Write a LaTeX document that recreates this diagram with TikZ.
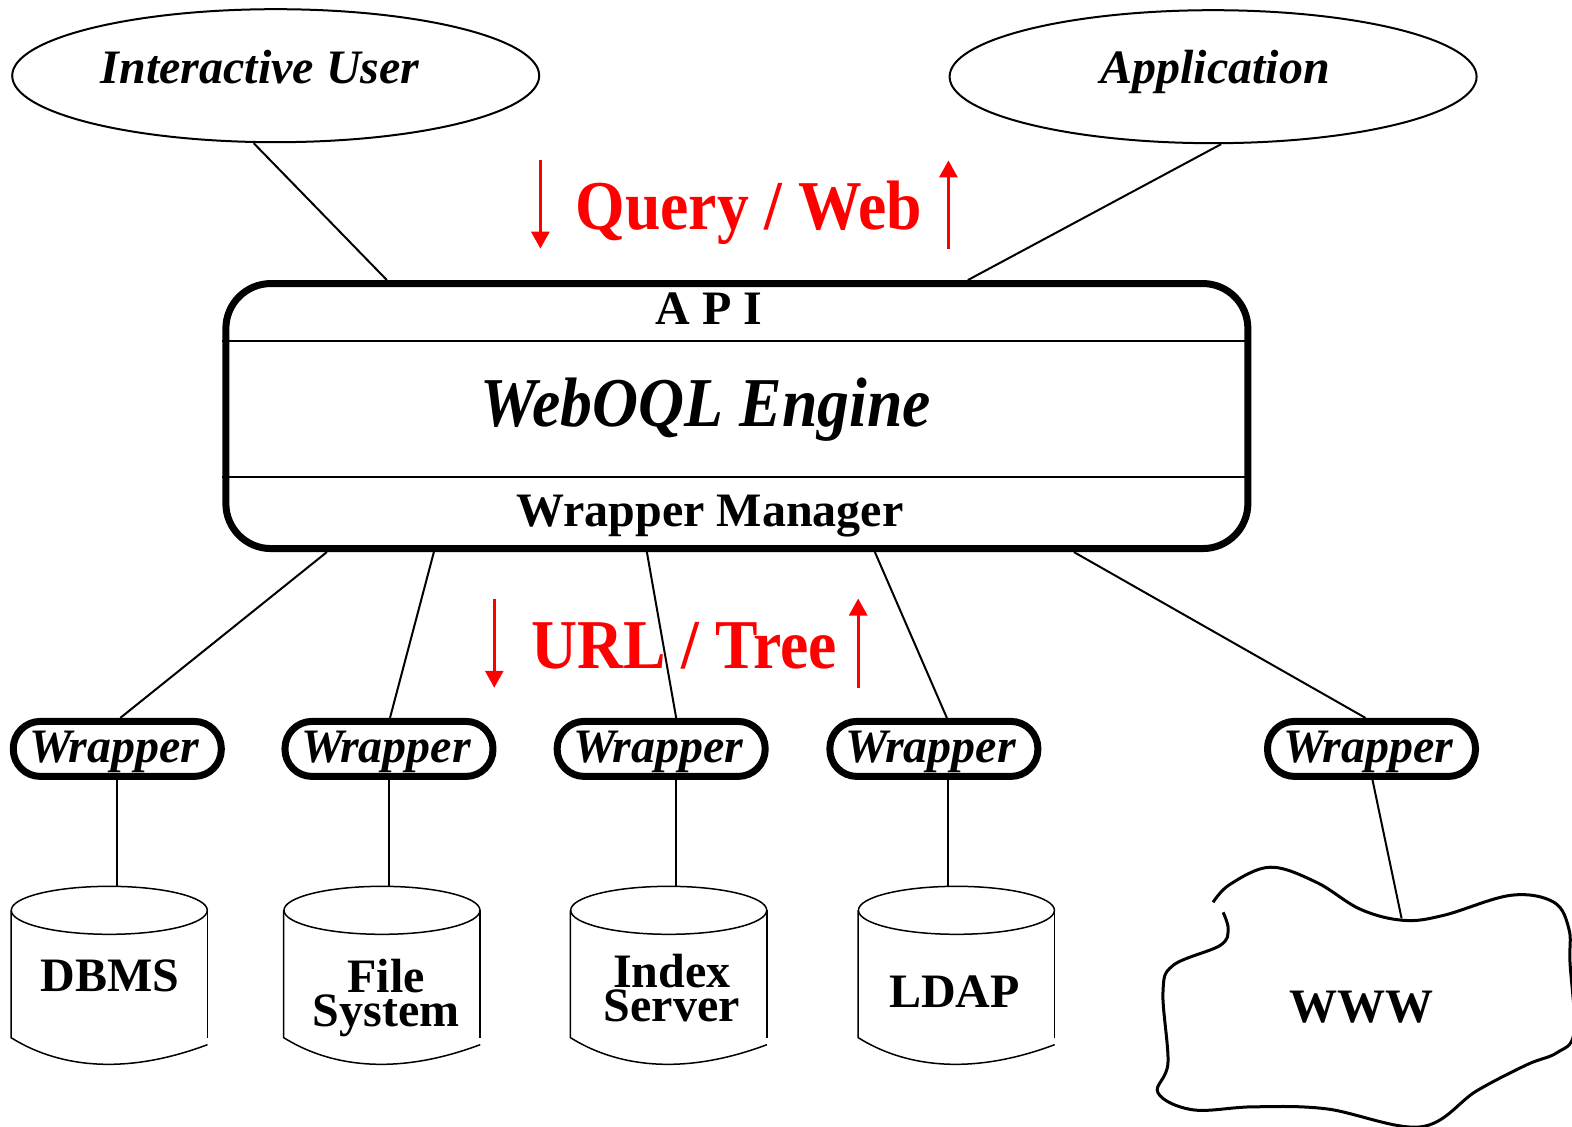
\documentclass[tikz,border=0pt]{standalone}
\usepackage{fontspec}
\setmainfont{Liberation Serif}
\usepackage{graphicx}
\usetikzlibrary{shapes.geometric,arrows.meta}
\begin{document}
\begin{tikzpicture}[x=1.00255pt,y=-1.00255pt,
  lbl/.style={inner sep=0pt, anchor=base},
  txtb/.style={font=\fontsize{48}{48}\selectfont\bfseries},
  txtbi/.style={font=\fontsize{48}{48}\selectfont\bfseries\itshape},
  twoline/.style={inner sep=0pt, align=center, font=\fontsize{48}{34}\selectfont\bfseries},
  huge b/.style={font=\fontsize{70}{70}\selectfont\bfseries},
  huge bi/.style={font=\fontsize{70}{70}\selectfont\bfseries\itshape},
  link/.style={line width=2pt},
  actor/.style={draw, ellipse, line width=2pt, minimum width=527pt, minimum height=133pt, inner sep=0pt},
  engine/.style={draw, line width=7pt, rounded corners=45pt, minimum width=1022pt, minimum height=265pt, inner sep=0pt},
  wrapbox/.style={draw, line width=7pt, rounded corners=27pt, minimum width=208pt, minimum height=55pt, inner sep=0pt},
  flow/.style={red, line width=3pt, -{Triangle[width=18pt,length=17pt]}},
  disk/.style={line width=1.5pt},
  diskpic/.pic={
    \draw[disk] (0,24) ellipse [x radius=98pt, y radius=24pt];
    \draw[disk] (-98,24) -- (-98,151) .. controls (-55,178) and (10,191) .. (98,158);
    \draw[disk] (98,24) -- (98,151);
  },
]
\useasboundingbox (0,0) rectangle (1568,1124);

% clients
\node[actor] (iu) at (275,75.5) {};
\node[actor] (app) at (1210,76.5) {};
\node[lbl, txtbi] (iut) at (259.5,83) {Interactive User};
\node[lbl, txtbi] (appt) at (1212,83) {Application};

% engine box with its three layers
\node[engine] (eng) at (735,415) {};
\draw[line width=2.5pt] (eng.west |- 0,340) -- (eng.east |- 0,340);
\draw[line width=2.5pt] (eng.west |- 0,476) -- (eng.east |- 0,476);
\node[lbl, txtb] (api) at (707,324) {A P I};
\node[lbl, huge bi] (core) at (704,425) {\scalebox{0.91}[1]{WebOQL Engine}};
\node[lbl, txtb] (wman) at (708,525) {Wrapper Manager};

% client links
\draw[link] ([xshift=-22pt]iu.south) -- ([xshift=-350pt]eng.north);
\draw[link] ([xshift=8pt]app.south) -- ([xshift=231pt]eng.north);

% query / result flow
\node[lbl, huge b, red] (qw) at (747,229) {\scalebox{0.91}[1]{Query / Web}};
\coordinate (qa1) at (539,160); \coordinate (qa2) at (539,248);
\coordinate (qb1) at (946,248); \coordinate (qb2) at (946,160);
\draw[flow] (qa1) -- (qa2);
\draw[flow] (qb1) -- (qb2);

\node[lbl, huge b, red] (ut) at (682.5,667) {\scalebox{0.91}[1]{URL / Tree}};
\coordinate (ua1) at (493,597); \coordinate (ua2) at (493,686);
\coordinate (ub1) at (856,686); \coordinate (ub2) at (856,597);
\draw[flow] (ua1) -- (ua2);
\draw[flow] (ub1) -- (ub2);

% wrappers
\node[wrapbox] (w1) at (117,747) {};
\node[wrapbox] (w2) at (388,747) {};
\node[wrapbox] (w3) at (659.5,747) {};
\node[wrapbox] (w4) at (931.5,747) {};
\node[wrapbox] (w5) at (1368,747) {};
\node[lbl, txtbi] (w1t) at (114,761) {Wrapper};
\node[lbl, txtbi] (w2t) at (385,761) {Wrapper};
\node[lbl, txtbi] (w3t) at (656.5,761) {Wrapper};
\node[lbl, txtbi] (w4t) at (928.5,761) {Wrapper};
\node[lbl, txtbi] (w5t) at (1365,761) {Wrapper};

\draw[link] ([xshift=-410pt]eng.south) -- ([xshift=3pt]w1.north);
\draw[link] ([xshift=-303pt]eng.south) -- ([xshift=1pt]w2.north);
\draw[link] ([xshift=-90pt]eng.south) -- ([xshift=15pt]w3.north);
\draw[link] ([xshift=138pt]eng.south) -- ([xshift=13pt]w4.north);
\draw[link] ([xshift=337pt]eng.south) -- ([xshift=-6pt]w5.north);

% data sources
\pic at (109,884) {diskpic};
\pic at (381,884) {diskpic};
\pic at (667,884) {diskpic};
\pic at (954,884) {diskpic};
\coordinate (d1) at (109,884);
\coordinate (d2) at (381,884);
\coordinate (d3) at (667,884);
\coordinate (d4) at (954,884);

\node[lbl, txtb] (dbms) at (109.5,989) {DBMS};
\node[twoline] (fs) at (385,995) {File\\System};
\node[twoline] (ix) at (670,986) {Index\\Server};
\node[lbl, txtb] (ldap) at (952,1005) {LDAP};

% the web
\draw[line width=3pt] plot[smooth, tension=0.6] coordinates {
  (1210,900) (1227,882) (1267,865) (1313,880) (1357,907) (1400,918)
  (1440,913) (1507,893) (1550,900) (1565,927) (1566,960) (1570,1030)
  (1553,1050) (1523,1062) (1473,1088) (1417,1124) (1323,1106) (1250,1104)
  (1190,1107) (1155,1090) (1165,1060) (1160,990) (1170,963) (1217,943)
  (1225,927) (1220,910)};
\coordinate (webtop) at (1398,916);
\node[lbl, txtb] (www) at (1358,1020) {WWW};

% wrapper to source links
\draw[link] (w1.south) -- (w1.south |- d1);
\draw[link] (w2.south) -- (w2.south |- d2);
\draw[link] ([xshift=15pt]w3.south) -- ([xshift=15pt]w3.south |- d3);
\draw[link] ([xshift=14pt]w4.south) -- ([xshift=14pt]w4.south |- d4);
\draw[link] ([xshift=1pt]w5.south) -- (webtop);
\end{tikzpicture}
\end{document}
